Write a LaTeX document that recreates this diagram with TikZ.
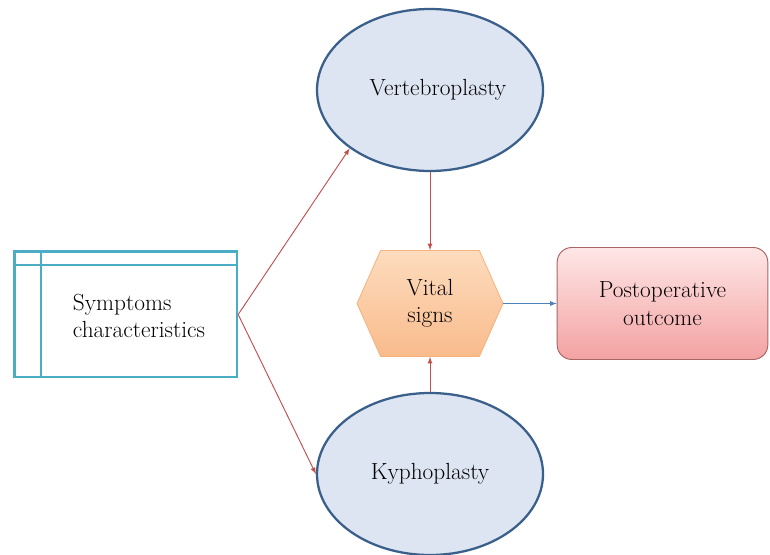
\documentclass[tikz,border=0pt]{standalone}
\usepackage{tikz}
\usetikzlibrary{arrows,%
	shapes.geometric,%
	shapes.symbols}
\definecolor{tealline}{HTML}{4BACC6}
\definecolor{ovalfill}{HTML}{DCE5F1}
\definecolor{ovalline}{HTML}{3A5F8B}
\definecolor{redarrow}{HTML}{C0504D}
\definecolor{bluearrow}{HTML}{4F81BD}
\definecolor{hextop}{HTML}{FDDCBE}
\definecolor{hexbottom}{HTML}{F9BB8C}
\definecolor{hexline}{HTML}{F6B37C}
\definecolor{outtop}{HTML}{FEE6E6}
\definecolor{outbottom}{HTML}{F4A2A2}
\definecolor{outline}{HTML}{A86565}

\begin{document}
\begin{tikzpicture}[x=0.75pt,y=-0.75pt,
	every node/.style={font=\fontsize{17.5}{20.5}\selectfont},
	oval_node/.style={ellipse,draw=ovalline,line width=1.7pt,fill=ovalfill,inner sep=0pt,minimum width=169.5pt,minimum height=121.5pt},
	hex_node/.style={signal,signal to=east and west,signal pointer angle=132,draw=hexline,line width=0.6pt,top color=hextop,bottom color=hexbottom,minimum width=109.5pt,minimum height=79.5pt,align=center,inner sep=2pt},
	out_node/.style={rectangle,rounded corners=11pt,draw=outline,line width=0.7pt,top color=outtop,bottom color=outbottom,minimum width=158pt,minimum height=84pt,align=center},
	list_node/.style={rectangle,draw=tealline,line width=2pt,minimum width=167pt,minimum height=94pt},
	red_arrow/.style={-latex,draw=redarrow,line width=0.7pt},
	blue_arrow/.style={-latex,draw=bluearrow,line width=0.7pt}]
		\useasboundingbox (0,0) rectangle (770,555);

		\node[oval_node] (vert) at (430,90) {\hspace*{12pt}Vertebroplasty};
		\node[oval_node] (kyph) at (430,474) {Kyphoplasty};
		\node[hex_node] (vital) at (430,303.5) {Vital\\signs};
		\node[out_node] (outcome) at (662.5,303.5) {Postoperative\\outcome};
		\node[list_node] (symp) at (125.5,314.5) {};
		\node[align=left] (symp_text) at (139,316) {Symptoms\\characteristics};

		\draw[tealline,line width=2pt] ([xshift=21pt]symp.north west) -- ([xshift=21pt]symp.south west);
		\draw[tealline,line width=2pt] ([yshift=-11pt]symp.north west) -- ([yshift=-11pt]symp.north east);

		\draw[red_arrow] (symp.east) -- (vert.216);
		\draw[red_arrow] (symp.east) -- (kyph.west);
		\draw[red_arrow] (vert.south) -- (vital.north);
		\draw[red_arrow] (kyph.north) -- (vital.south);
		\draw[blue_arrow] (vital.east) -- (outcome.west);
		\end{tikzpicture}
\end{document}
